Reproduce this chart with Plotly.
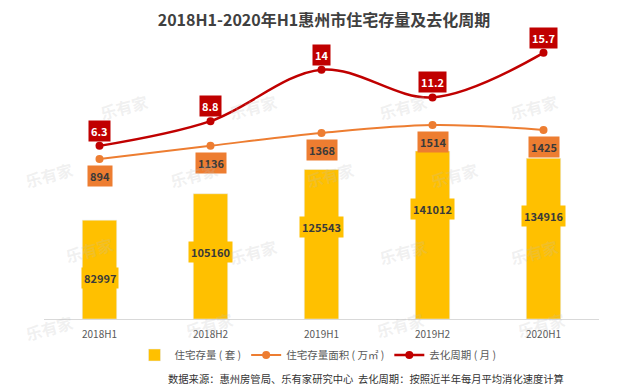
import plotly.graph_objects as go

categories = ["2018H1", "2018H2", "2019H1", "2019H2", "2020H1"]
stock_units = [82997, 105160, 125543, 141012, 134916]
stock_area = [894, 1136, 1368, 1514, 1425]
cycle_months = [6.3, 8.8, 14, 11.2, 15.7]

title_text = "2018H1-2020年H1惠州市住宅存量及去化周期"
source_text = "数据来源：惠州房管局、乐有家研究中心  去化周期：按照近半年每月平均消化速度计算"
name_units = "住宅存量 ( 套 )"
name_area = "住宅存量面积 ( 万㎡ )"
name_cycle = "去化周期 ( 月 )"

YELLOW = "#FFC000"
ORANGE = "#ED7D31"
RED = "#C00000"
FONT = "Noto Sans CJK SC"

fig = go.Figure()
fig.add_trace(go.Bar(x=categories, y=stock_units, name=name_units, marker_color=YELLOW,
                     width=0.31, yaxis="y", hoverinfo="x+y"))
fig.add_trace(go.Scatter(x=categories, y=stock_area, name=name_area, mode="lines+markers",
                         line=dict(color=ORANGE, width=2, shape="spline"),
                         marker=dict(color=ORANGE, size=8), yaxis="y2"))
fig.add_trace(go.Scatter(x=categories, y=cycle_months, name=name_cycle, mode="lines+markers",
                         line=dict(color=RED, width=2.5, shape="spline"),
                         marker=dict(color=RED, size=8), yaxis="y3"))

annotations = []
for c, v in zip(categories, stock_units):
    annotations.append(dict(x=c, y=v, xref="x", yref="y", text=f"<b>{v}</b>", showarrow=False,
                            yshift=-58, bgcolor=YELLOW, borderpad=2,
                            font=dict(family=FONT, size=11, color="#3a3a3a")))
for c, v in zip(categories, stock_area):
    annotations.append(dict(x=c, y=v, xref="x", yref="y2", text=f"<b>{v}</b>", showarrow=False,
                            yshift=-17, bgcolor=ORANGE, borderpad=2,
                            font=dict(family=FONT, size=11, color="#3a3a3a")))
for c, v in zip(categories, cycle_months):
    annotations.append(dict(x=c, y=v, xref="x", yref="y3", text=f"<b>{v:g}</b>", showarrow=False,
                            yshift=15, bgcolor=RED, borderpad=2,
                            font=dict(family=FONT, size=11, color="white")))

# page is offset by the browser's 8px body margin: lay out on a 632x382 canvas
OFF = 8
W, H = 640 - OFF, 390 - OFF
L, R, T, B = 44 - OFF, 41, 40 - OFF, 71
pw, ph = W - L - R, H - T - B


def px_x(px):
    return (px - OFF - L) / pw


def px_y(py):
    return (H - B - (py - OFF)) / ph


# faint watermarks
wm_positions = [(95, 87), (253, 87), (403, 87), (563, 87),
                (20, 175), (165, 175), (330, 175), (483, 175),
                (60, 270), (253, 272), (403, 272), (563, 272),
                (20, 348), (180, 345), (400, 345), (570, 345)]
for px, py in wm_positions:
    annotations.append(dict(x=px_x(px), y=px_y(py), xref="paper", yref="paper",
                            text="<b>乐有家</b>", showarrow=False, textangle=-15,
                            font=dict(family=FONT, size=16, color="rgba(190,190,190,0.22)")))

annotations.append(dict(x=px_x(366), y=px_y(378), xref="paper", yref="paper",
                        text=source_text, showarrow=False, xanchor="center", yanchor="middle",
                        font=dict(family=FONT, size=10.3, color="#333333")))

fig.update_layout(
    width=W, height=H,
    margin=dict(l=L, r=R, t=T, b=B),
    paper_bgcolor="white", plot_bgcolor="white",
    title=dict(text=f"<b>{title_text}</b>", x=(324 - OFF) / W, xanchor="center",
               y=1 - (20 - OFF) / H, yanchor="middle",
               font=dict(family=FONT, size=16, color="#404040")),
    xaxis=dict(type="category", range=[-0.5, 4.5], showline=True, linecolor="#D9D9D9", linewidth=1,
               showgrid=False, ticks="", ticklabelstandoff=6,
               tickfont=dict(family=FONT, size=10, color="#595959")),
    yaxis=dict(range=[0, 234200], visible=False, showgrid=False),
    yaxis2=dict(range=[-2026, 3065], overlaying="y", visible=False, showgrid=False),
    yaxis3=dict(range=[-11.2, 17.0], overlaying="y", visible=False, showgrid=False),
    showlegend=True,
    legend=dict(orientation="h", x=px_x(318), xanchor="center", y=px_y(355),
                yanchor="middle", font=dict(family=FONT, size=10.5, color="#595959"),
                bgcolor="rgba(0,0,0,0)", itemwidth=30, tracegroupgap=0),
    annotations=annotations,
)

fig.write_html("out.html")
